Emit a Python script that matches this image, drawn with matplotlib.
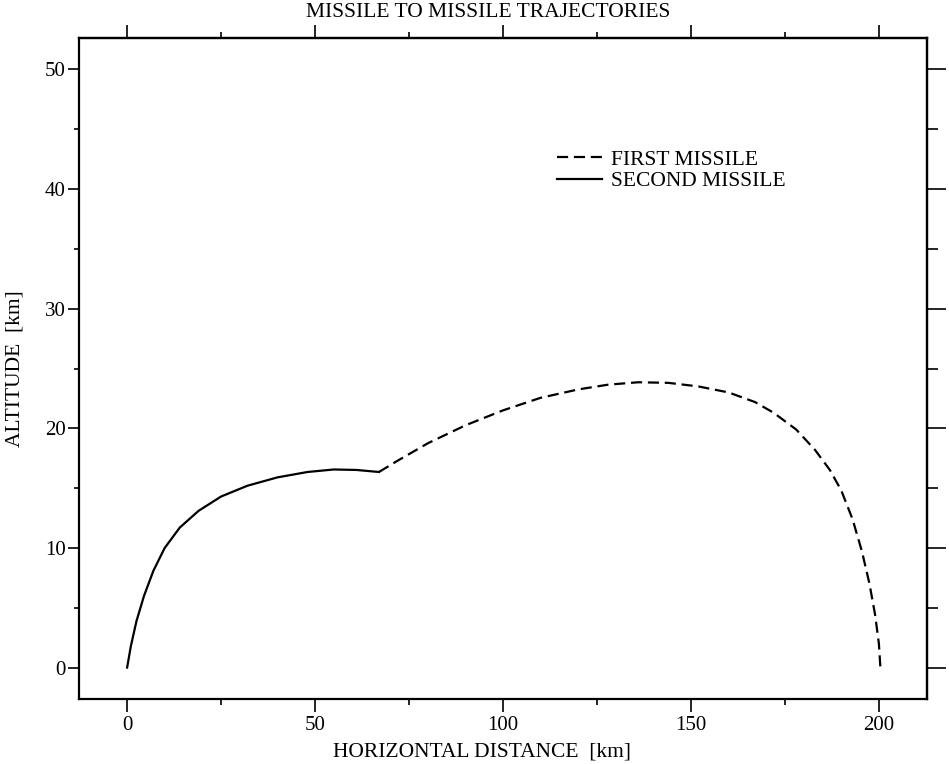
import matplotlib
matplotlib.use("Agg")
import matplotlib.pyplot as plt
import numpy as np

plt.rcParams['font.family'] = ['Liberation Serif', 'DejaVu Serif']

# Second missile (solid)
second_x = [0, 1.0, 2.5, 4.5, 7, 10, 14, 19, 25, 32, 40, 48, 55, 61, 67]
second_y = [0, 1.8, 3.9, 6.0, 8.1, 10.0, 11.7, 13.1, 14.3, 15.2, 15.9, 16.35, 16.56, 16.52, 16.35]

# First missile (dashed)
first_x = [67, 72, 80, 90, 100, 110, 120, 128, 136, 144, 152, 160, 167, 172, 178, 183, 187, 190, 193, 195.5, 197.5, 199, 200, 200.4]
first_y = [16.35, 17.3, 18.75, 20.25, 21.5, 22.55, 23.25, 23.65, 23.85, 23.8, 23.5, 23.0, 22.2, 21.3, 19.9, 18.2, 16.5, 14.8, 12.4, 9.7, 7.0, 4.4, 2.0, 0.0]

x_ticks = [0, 50, 100, 150, 200]
y_ticks = [0, 10, 20, 30, 40, 50]
x_minor = [25, 75, 125, 175]
y_minor = [5, 15, 25, 35, 45]

title = "MISSILE TO MISSILE TRAJECTORIES"
xlabel = "HORIZONTAL DISTANCE  [km]"
ylabel = "ALTITUDE  [km]"
labels = ["FIRST MISSILE", "SECOND MISSILE"]

fs = 15.5

fig = plt.figure(figsize=(9.49, 7.64), dpi=100)
ax = fig.add_axes([79/949, 1-698.7/764, (927-79)/949, (698.7-38.3)/764])

ax.plot(first_x, first_y, color='black', lw=1.6, linestyle=(0, (5, 2.6)), label=labels[0])
ax.plot(second_x, second_y, color='black', lw=1.6, linestyle='-', label=labels[1])

ax.set_xlim(-12.8, 212.8)
ax.set_ylim(-2.6, 52.6)

ax.set_xticks(x_ticks)
ax.set_yticks(y_ticks)
ax.set_xticks(x_minor, minor=True)
ax.set_yticks(y_minor, minor=True)

for s in ax.spines.values():
    s.set_linewidth(1.6)

ax.tick_params(axis='x', which='major', direction='out', length=9.4, width=1.2, pad=3, labelsize=15)
ax.tick_params(axis='x', which='minor', direction='out', length=4.3, width=1.2)
ax.tick_params(axis='y', which='major', direction='out', length=7.7, width=1.2, pad=2, labelsize=15)
ax.tick_params(axis='y', which='minor', direction='out', length=3.6, width=1.2)

secx = ax.secondary_xaxis('top')
secx.set_xticks(x_ticks)
secx.set_xticks(x_minor, minor=True)
secx.tick_params(axis='x', which='major', direction='out', length=9.4, width=1.2, labeltop=False)
secx.tick_params(axis='x', which='minor', direction='out', length=4.3, width=1.2)
secx.spines['top'].set_linewidth(1.6)

secy = ax.secondary_yaxis('right')
secy.set_yticks(y_ticks)
secy.set_yticks(y_minor, minor=True)
secy.tick_params(axis='y', which='major', direction='out', length=13.5, width=1.2, labelright=False)
secy.tick_params(axis='y', which='minor', direction='out', length=7.9, width=1.2)
secy.spines['right'].set_linewidth(1.6)

leg = ax.legend(loc='upper left', bbox_to_anchor=(0.5637, 0.831), frameon=False,
                fontsize=fs, handlelength=2.09, handletextpad=0.42,
                labelspacing=0.05, borderpad=0, borderaxespad=0)

fig.text(0.514, 0.983, title, ha='center', va='center', fontsize=fs)
fig.text(0.508, 0.016, xlabel, ha='center', va='center', fontsize=fs)
fig.text(0.016, 0.518, ylabel, ha='center', va='center', rotation=90, fontsize=fs)

fig.savefig("out.png", dpi=100)
